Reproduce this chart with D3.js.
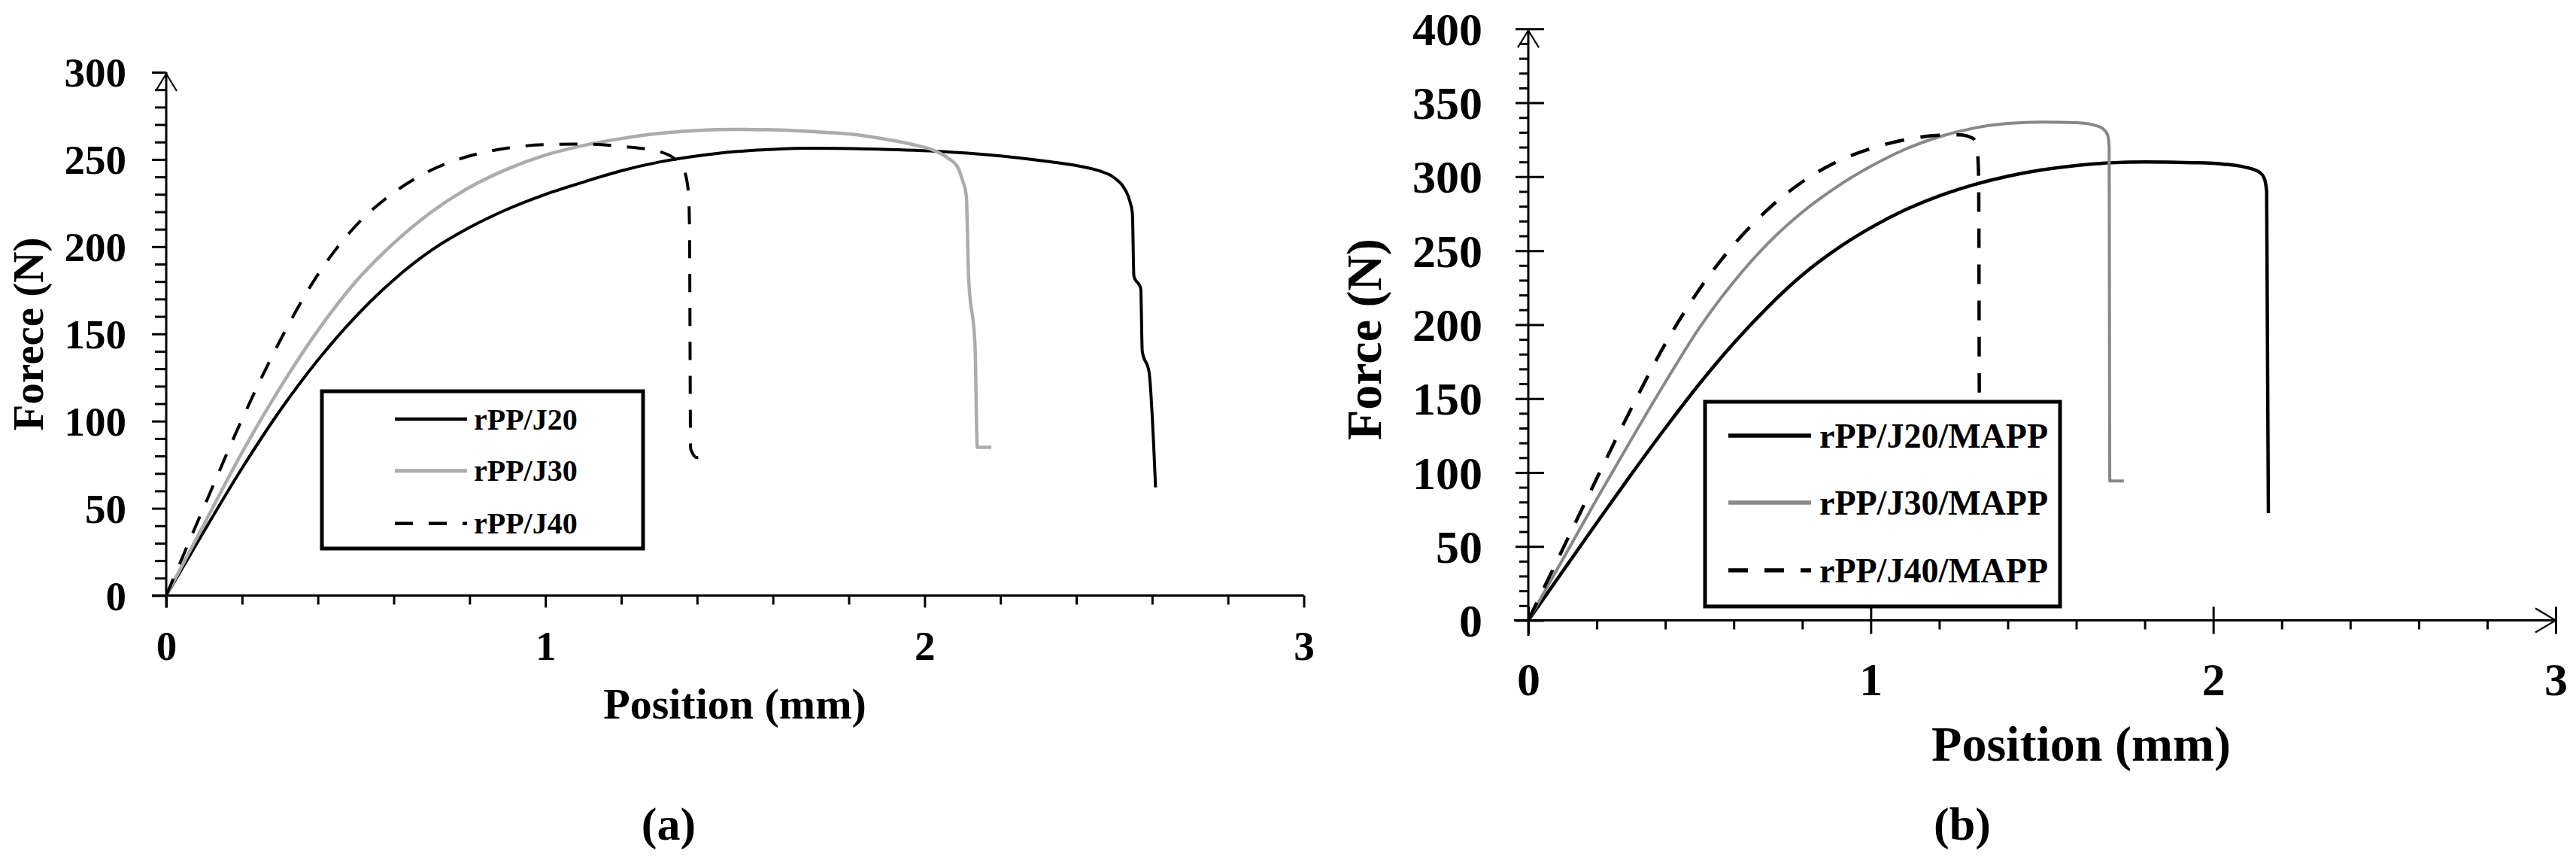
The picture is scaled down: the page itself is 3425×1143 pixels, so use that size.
<!DOCTYPE html>
<html><head><meta charset="utf-8">
<script src="https://cdn.jsdelivr.net/npm/d3@7"></script>
<style>
body{margin:0;background:#fff}
svg text{font-family:"Liberation Serif","Times New Roman",serif;font-weight:bold;fill:#000}
</style>
</head><body>
<svg id="chart" width="3425" height="1143"></svg>
<script>
// ---------------- DATA ----------------
const xTickValues = [0, 1, 2, 3];
const yTicksA = [0, 50, 100, 150, 200, 250, 300];
const yTicksB = [0, 50, 100, 150, 200, 250, 300, 350, 400];
const namesA = ["rPP/J20", "rPP/J30", "rPP/J40"];
const namesB = ["rPP/J20/MAPP", "rPP/J30/MAPP", "rPP/J40/MAPP"];
const titleXA = "Position (mm)", titleYA = "Forece (N)", labelA = "(a)";
const titleXB = "Position (mm)", titleYB = "Force (N)", labelB = "(b)";

// [position (mm), force (N)]
const a_J20 = [[0,0],[0.1,37],[0.2,73],[0.3,106],[0.4,135],[0.5,160],[0.6,181],[0.7,198],[0.8,211],[0.9,221.5],[1.0,230],[1.1,237],[1.2,243.5],[1.3,248.5],[1.4,252],[1.5,254.5],[1.6,255.8],[1.7,256.4],[1.85,256],[2.03,254.7],[2.2,252],[2.32,249],[2.40,246.5],[2.46,243.5],[2.50,239.5],[2.525,234],[2.54,227],[2.548,219],[2.552,183],[2.570,176],[2.574,140],[2.592,128],[2.605,82],[2.609,62]];
const a_J30 = [[0,0],[0.1,41],[0.2,82],[0.3,119],[0.4,152],[0.5,180],[0.6,202],[0.7,220],[0.8,234],[0.9,244.5],[1.0,252.5],[1.1,258],[1.2,262],[1.3,265],[1.4,266.6],[1.5,267.2],[1.6,267],[1.7,266],[1.8,264.6],[1.9,261.5],[1.97,258.5],[2.03,254.7],[2.06,251],[2.087,245.6],[2.10,238],[2.11,229],[2.116,183],[2.133,143],[2.139,85],[2.176,85]];
const a_J40 = [[0,0],[0.1,51],[0.2,101],[0.3,146],[0.4,184],[0.5,212],[0.6,231],[0.7,244],[0.8,252],[0.9,256.5],[1.0,258.5],[1.1,258.8],[1.2,257.5],[1.3,254.5],[1.34,250.5],[1.36,246],[1.372,239],[1.378,228],[1.380,210],[1.383,84],[1.40,79],[1.43,79]];

const b_J20 = [[0,0],[0.1,33],[0.2,66],[0.3,98.5],[0.4,130],[0.5,160],[0.6,187.5],[0.7,212],[0.8,233.5],[0.9,251],[1.0,265.5],[1.1,277.5],[1.2,287],[1.3,294.5],[1.4,300.3],[1.5,304.6],[1.6,307.6],[1.7,309.4],[1.8,310],[1.94,309.5],[2.03,308.5],[2.09,306.6],[2.135,303],[2.149,299],[2.156,290],[2.161,72.5]];
const b_J30 = [[0,0],[0.1,41],[0.2,82],[0.3,122],[0.4,161],[0.5,198],[0.6,229],[0.7,255],[0.8,276],[0.9,293],[1.0,307],[1.1,318.5],[1.2,327],[1.3,332.8],[1.4,336],[1.5,337],[1.6,336.5],[1.65,335],[1.676,332.8],[1.692,328],[1.696,320],[1.698,94.3],[1.739,94.3]];
const b_J40 = [[0,0],[0.1,48],[0.2,96],[0.3,143],[0.4,187],[0.5,224],[0.6,254],[0.7,278],[0.8,296.5],[0.9,310],[1.0,319],[1.1,325],[1.2,328],[1.26,328.3],[1.298,326],[1.31,320],[1.315,300],[1.318,90],[1.35,90]];

// ---------------- STYLE / LAYOUT ----------------
const svg = d3.select("#chart");

const panels = [
  {
    series: [a_J20, a_J30, a_J40], names: namesA, yTicks: yTicksA, yMax: 300,
    xRange: [221, 1733.5], yRange: [791.5, 96],
    colors: ["#000", "#acacac", "#000"], widths: [4, 4.5, 4], dashes: [null, null, "24,21"],
    yMajL: 19, yMajR: 0, yMinL: 15, xMajD: 16, xMajU: 0, xMinD: 12,
    yAxisBottom: 807.5, xAxisLeft: 202,
    yArrow: true, xArrow: false,
    fontTick: 55, yLabelX: 168, xLabelY: 877,
    titleX: {text: titleXA, x: 977, y: 955, size: 58},
    titleY: {text: titleYA, x: 57, y: 444, size: 57},
    letter: {text: labelA, x: 889, y: 1116, size: 62},
    legend: {x0: 428, y0: 520, x1: 855, y1: 729, lx0: 525, lx1: 621, tx: 630, ys: [557, 625.7, 695.7], size: 40, lw: [4.5, 5, 4.5]}
  },
  {
    series: [b_J20, b_J30, b_J40], names: namesB, yTicks: yTicksB, yMax: 400,
    xRange: [2032, 3398], yRange: [824.5, 38.3],
    colors: ["#000", "#888888", "#000"], widths: [4.5, 4, 4.5], dashes: [null, null, "26,22"],
    yMajL: 17, yMajR: 21, yMinL: 12, xMajD: 18, xMajU: 18, xMinD: 12,
    yAxisBottom: 845, xAxisLeft: 2013,
    yArrow: true, xArrow: true,
    fontTick: 62, yLabelX: 1971, xLabelY: 924,
    titleX: {text: titleXB, x: 2767, y: 1011, size: 66},
    titleY: {text: titleYB, x: 1836, y: 451, size: 66},
    letter: {text: labelB, x: 2609, y: 1116, size: 62},
    legend: {x0: 2267, y0: 534, x1: 2739, y1: 806, lx0: 2298, lx1: 2408, tx: 2419, ys: [579, 668, 758], size: 46, lw: [5.5, 5.5, 5.5]}
  }
];

panels.forEach(p => {
  const x = d3.scaleLinear().domain([0, 3]).range(p.xRange);
  const y = d3.scaleLinear().domain([0, p.yMax]).range(p.yRange);
  const g = svg.append("g");
  const axisW = 3;

  // y minor ticks
  const yMinorVals = d3.range(0, p.yMax + 1, 10).filter(v => v % 50 !== 0);
  const gyMin = g.append("g").attr("transform", `translate(${x(0)},0)`)
    .call(d3.axisLeft(y).tickValues(yMinorVals).tickSize(p.yMinL).tickFormat(""));
  gyMin.select(".domain").remove();
  // y major ticks + labels
  const gyMaj = g.append("g").attr("transform", `translate(${x(0)},0)`)
    .call(d3.axisLeft(y).tickValues(p.yTicks).tickSize(p.yMajL).tickFormat(d3.format("d")));
  gyMaj.select(".domain").remove();
  gyMaj.selectAll(".tick line").attr("x1", p.yMajR);
  gyMaj.selectAll(".tick text")
    .attr("x", p.yLabelX - x(0)).attr("dy", "0.34em")
    .style("font-size", p.fontTick + "px").attr("text-anchor", "end");

  // x minor ticks
  const xMinorVals = d3.range(0, 3.001, 0.2).filter(v => Math.abs(v - Math.round(v)) > 1e-6);
  const gxMin = g.append("g").attr("transform", `translate(0,${y(0)})`)
    .call(d3.axisBottom(x).tickValues(xMinorVals).tickSize(p.xMinD).tickFormat(""));
  gxMin.select(".domain").remove();
  const gxMaj = g.append("g").attr("transform", `translate(0,${y(0)})`)
    .call(d3.axisBottom(x).tickValues(xTickValues).tickSize(p.xMajD).tickFormat(d3.format("d")));
  gxMaj.select(".domain").remove();
  gxMaj.selectAll(".tick line").attr("y1", -p.xMajU);
  gxMaj.selectAll(".tick text")
    .attr("y", p.xLabelY - y(0)).attr("dy", 0)
    .style("font-size", p.fontTick + "px");

  g.selectAll(".tick line").attr("stroke", "#000").attr("stroke-width", axisW);

  // axis lines
  g.append("line").attr("x1", x(0)).attr("x2", x(0)).attr("y1", p.yAxisBottom).attr("y2", y(p.yMax))
    .attr("stroke", "#000").attr("stroke-width", axisW);
  g.append("line").attr("x1", p.xAxisLeft).attr("x2", x(3)).attr("y1", y(0)).attr("y2", y(0))
    .attr("stroke", "#000").attr("stroke-width", axisW);
  if (p.yArrow) {
    g.append("path").attr("d", `M${x(0)-14},${y(p.yMax)+25}L${x(0)},${y(p.yMax)+2}L${x(0)+14},${y(p.yMax)+25}`)
      .attr("fill", "none").attr("stroke", "#000").attr("stroke-width", 2.2);
  }
  if (p.xArrow) {
    g.append("path").attr("d", `M${x(3)-27},${y(0)-16}L${x(3)},${y(0)}L${x(3)-27},${y(0)+16}`)
      .attr("fill", "none").attr("stroke", "#000").attr("stroke-width", 2.2);
  }

  // curves
  const line = d3.line().x(d => x(d[0])).y(d => y(d[1])).curve(d3.curveMonotoneX);
  p.series.forEach((s, i) => {
    g.append("path").datum(s).attr("d", line)
      .attr("fill", "none").attr("stroke", p.colors[i]).attr("stroke-width", p.widths[i])
      .attr("stroke-linejoin", "round")
      .attr("stroke-dasharray", p.dashes[i]);
  });

  // legend
  const L = p.legend;
  g.append("rect").attr("x", L.x0).attr("y", L.y0).attr("width", L.x1 - L.x0).attr("height", L.y1 - L.y0)
    .attr("fill", "#fff").attr("stroke", "#000").attr("stroke-width", 5);
  p.names.forEach((n, i) => {
    g.append("line").attr("x1", L.lx0).attr("x2", L.lx1).attr("y1", L.ys[i]).attr("y2", L.ys[i])
      .attr("stroke", p.colors[i]).attr("stroke-width", L.lw[i]).attr("stroke-dasharray", p.dashes[i]);
    g.append("text").attr("x", L.tx).attr("y", L.ys[i]).attr("dy", "0.34em")
      .style("font-size", L.size + "px").text(n);
  });

  // titles
  g.append("text").attr("x", p.titleX.x).attr("y", p.titleX.y).attr("text-anchor", "middle")
    .style("font-size", p.titleX.size + "px").text(p.titleX.text);
  g.append("text").attr("transform", `translate(${p.titleY.x},${p.titleY.y}) rotate(-90)`)
    .attr("text-anchor", "middle").style("font-size", p.titleY.size + "px").text(p.titleY.text);
  g.append("text").attr("x", p.letter.x).attr("y", p.letter.y).attr("text-anchor", "middle")
    .style("font-size", p.letter.size + "px").text(p.letter.text);
});
</script>
</body></html>
